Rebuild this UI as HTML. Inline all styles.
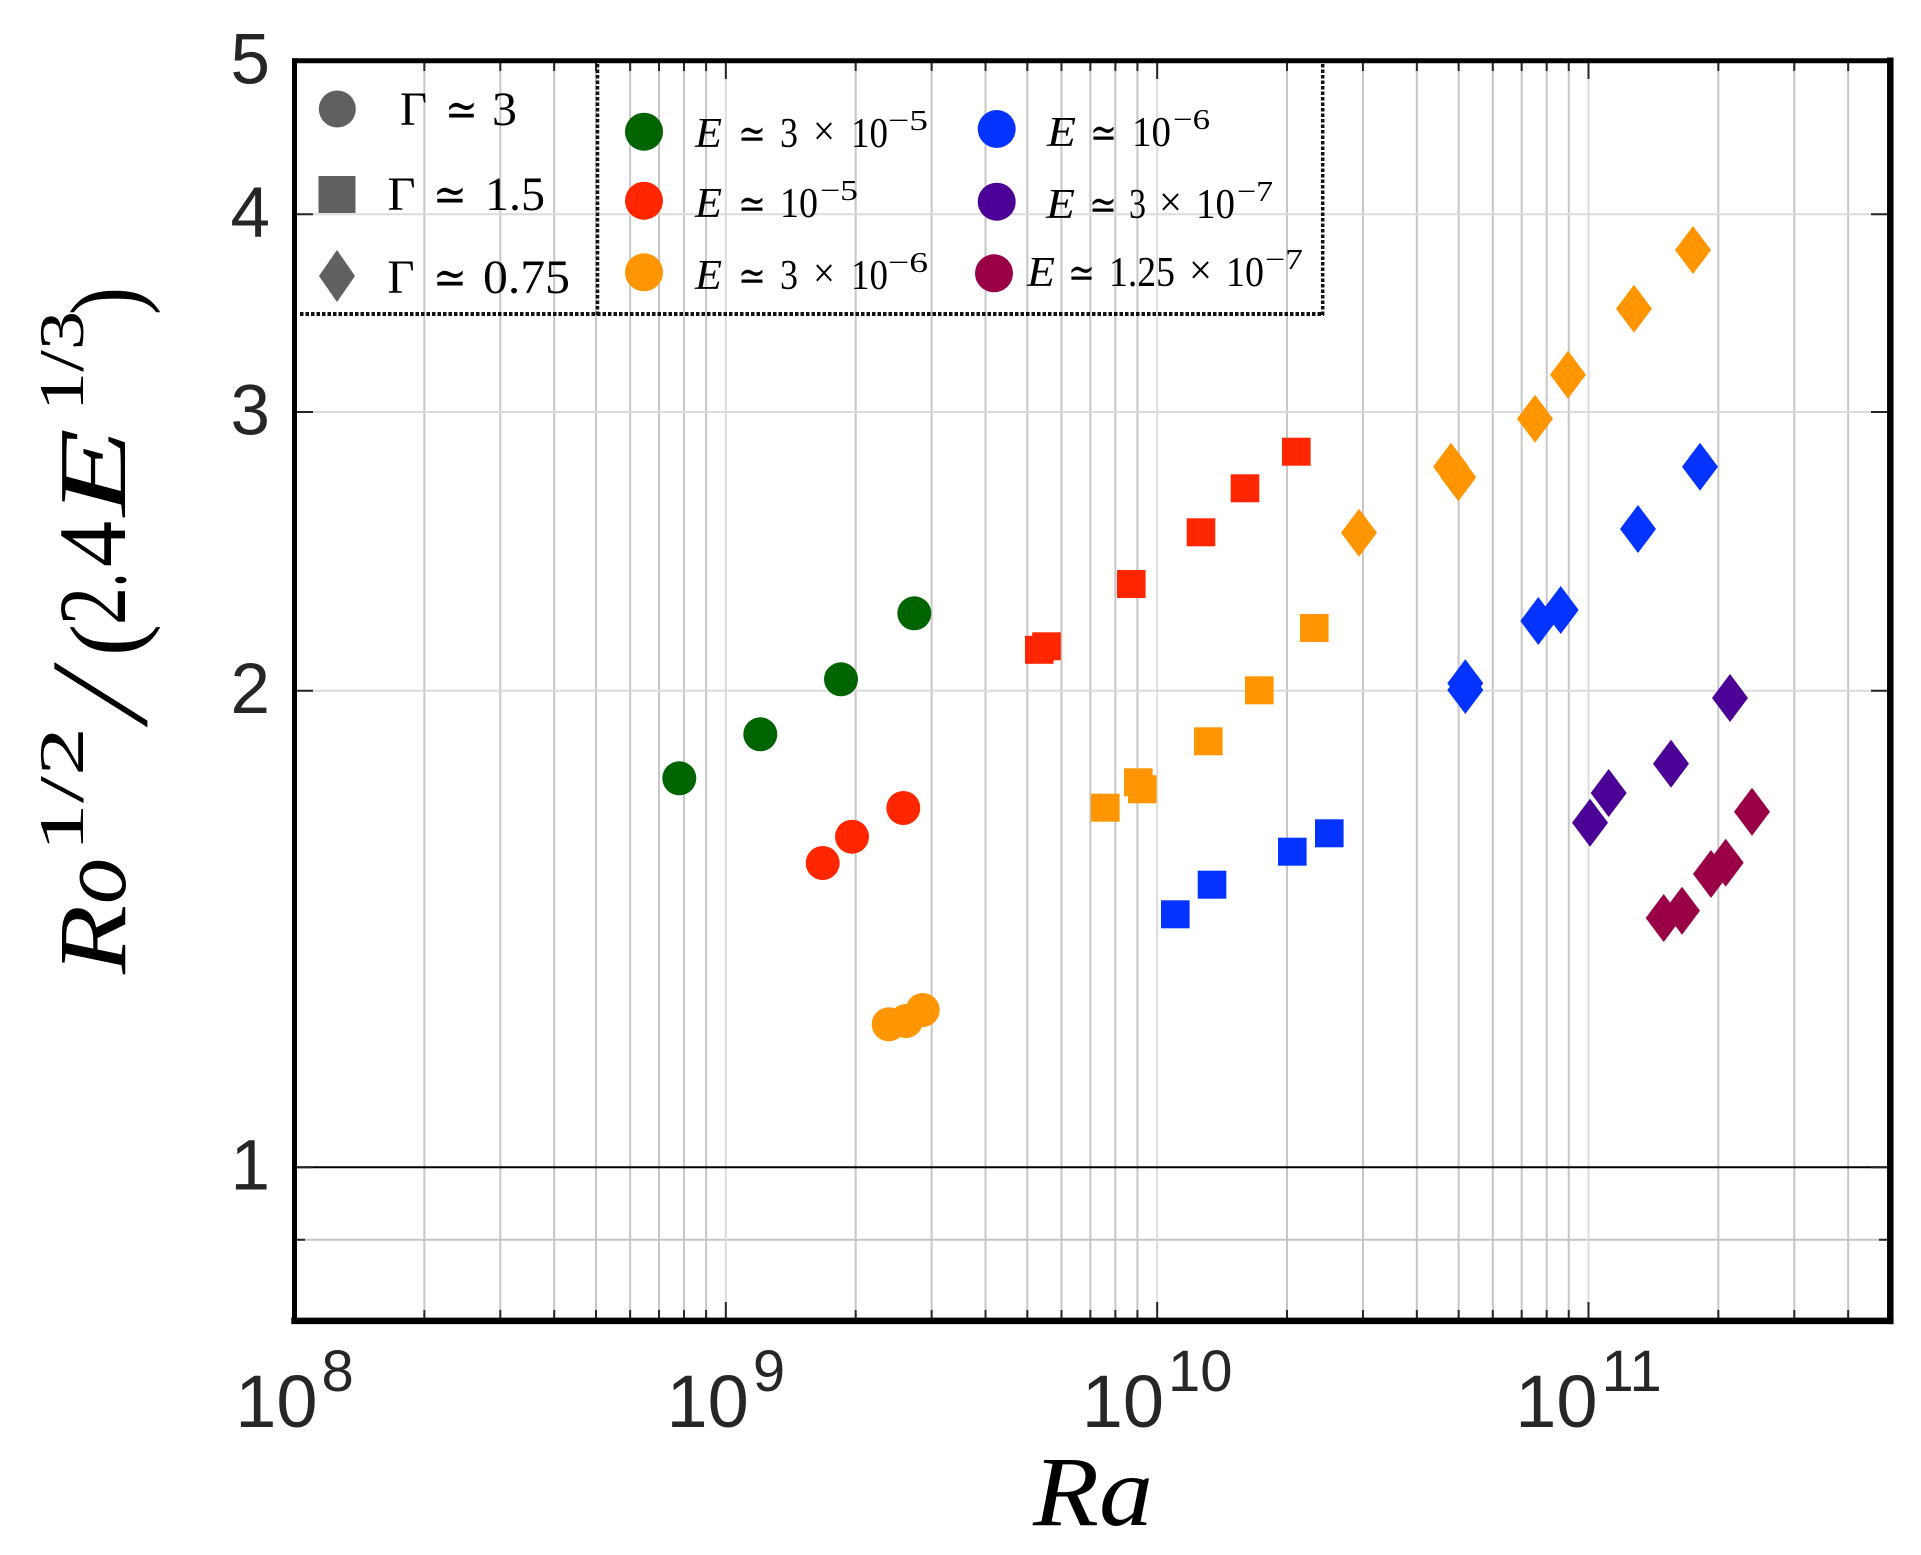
<!DOCTYPE html>
<html>
<head>
<meta charset="utf-8">
<style>
  html,body{margin:0;padding:0;background:#fff;}
  svg{display:block;}
  .tk{font-family:"Liberation Sans",sans-serif;fill:#262626;}
  .sf{font-family:"Liberation Serif","DejaVu Serif",serif;fill:#000;}
  .it{font-style:italic;}
</style>
</head>
<body>
<svg xmlns="http://www.w3.org/2000/svg" width="1921" height="1555" viewBox="0 0 1921 1555">
  <defs>
    <path id="dm" d="M0,-24L18,0L0,24L-18,0Z"/>
    <rect id="sq" x="-14.3" y="-14" width="28.6" height="28"/>
  </defs>
  <rect x="0" y="0" width="1921" height="1555" fill="#fff"/>

  <!-- minor vertical grid -->
  <path stroke="#c6c6c6" stroke-width="2" fill="none" d="
    M424.34 63V1318 M500.30 63V1318 M554.19 63V1318 M595.99 63V1318 M630.14 63V1318 M659.02 63V1318 M684.03 63V1318 M706.09 63V1318
    M855.67 63V1318 M931.63 63V1318 M985.52 63V1318 M1027.32 63V1318 M1061.47 63V1318 M1090.35 63V1318 M1115.36 63V1318 M1137.42 63V1318
    M1287.00 63V1318 M1362.96 63V1318 M1416.85 63V1318 M1458.65 63V1318 M1492.80 63V1318 M1521.68 63V1318 M1546.69 63V1318 M1568.75 63V1318
    M1718.33 63V1318 M1794.29 63V1318 M1848.18 63V1318
    M297 1239.7H1887"/>
  <!-- major grid -->
  <path stroke="#dcdcdc" stroke-width="2" fill="none" d="
    M725.83 63V1318 M1157.16 63V1318 M1588.49 63V1318
    M297 214.2H1887 M297 412H1887 M297 690.7H1887"/>
  <!-- y=1 reference line -->
  <path stroke="#000" stroke-width="2" d="M297 1167.2H1887"/>

  <!-- ticks -->
  <path stroke="#262626" stroke-width="2" fill="none" d="
    M424.34 63v8 M500.30 63v8 M554.19 63v8 M595.99 63v8 M630.14 63v8 M659.02 63v8 M684.03 63v8 M706.09 63v8
    M855.67 63v8 M931.63 63v8 M985.52 63v8 M1027.32 63v8 M1061.47 63v8 M1090.35 63v8 M1115.36 63v8 M1137.42 63v8
    M1287.00 63v8 M1362.96 63v8 M1416.85 63v8 M1458.65 63v8 M1492.80 63v8 M1521.68 63v8 M1546.69 63v8 M1568.75 63v8
    M1718.33 63v8 M1794.29 63v8 M1848.18 63v8
    M725.83 63v16 M1157.16 63v16 M1588.49 63v16
    M424.34 1318v-8 M500.30 1318v-8 M554.19 1318v-8 M595.99 1318v-8 M630.14 1318v-8 M659.02 1318v-8 M684.03 1318v-8 M706.09 1318v-8
    M855.67 1318v-8 M931.63 1318v-8 M985.52 1318v-8 M1027.32 1318v-8 M1061.47 1318v-8 M1090.35 1318v-8 M1115.36 1318v-8 M1137.42 1318v-8
    M1287.00 1318v-8 M1362.96 1318v-8 M1416.85 1318v-8 M1458.65 1318v-8 M1492.80 1318v-8 M1521.68 1318v-8 M1546.69 1318v-8 M1568.75 1318v-8
    M1718.33 1318v-8 M1794.29 1318v-8 M1848.18 1318v-8
    M725.83 1318v-16 M1157.16 1318v-16 M1588.49 1318v-16
    M297 214.2h16 M297 412h16 M297 690.7h16 M297 1167.2h16 M297 1239.7h8
    M1887 214.2h-16 M1887 412h-16 M1887 690.7h-16 M1887 1167.2h-16 M1887 1239.7h-8"/>

  <!-- legend dotted borders -->
  <g stroke="#111" fill="none" stroke-dasharray="3.5 2">
    <path stroke-width="3.5" d="M597.5 64V316"/>
    <path stroke-width="3.5" d="M1322.7 64V316"/>
    <path stroke-width="4" d="M300 314H1324"/>
  </g>

  <!-- axes frame -->
  <g stroke="#000" stroke-linecap="square">
    <path stroke-width="5" d="M294.5 60.8V1320.9"/>
    <path stroke-width="5" d="M294.5 60.8H1890.3"/>
    <path stroke-width="6.5" d="M1890.3 60.8V1320.9"/>
    <path stroke-width="6.5" d="M294.5 1320.9H1890.3"/>
  </g>

  <!-- y tick labels -->
  <g class="tk" font-size="71" text-anchor="end">
    <text x="270" y="83.3">5</text>
    <text x="270" y="236.7">4</text>
    <text x="270" y="434.5">3</text>
    <text x="270" y="713.2">2</text>
    <text x="270" y="1189.7">1</text>
  </g>
  <!-- x tick labels -->
  <g class="tk" font-size="74" text-anchor="middle">
    <text x="294.5" y="1427">10<tspan font-size="58" dx="4" dy="-36">8</tspan></text>
    <text x="725.83" y="1427">10<tspan font-size="58" dx="4" dy="-36">9</tspan></text>
    <text x="1157.16" y="1427">10<tspan font-size="58" dx="4" dy="-36">10</tspan></text>
    <text x="1588.49" y="1427">10<tspan font-size="58" dx="4" dy="-36">11</tspan></text>
  </g>

  <!-- x axis label -->
  <text class="sf it" x="1033" y="1525" font-size="100" textLength="120" lengthAdjust="spacingAndGlyphs">Ra</text>

  <!-- y axis label -->
  <g transform="translate(125,974) rotate(-90)" class="sf">
    <text class="it" x="0" y="0" font-size="96" textLength="69" lengthAdjust="spacingAndGlyphs">R</text>
    <text class="it" x="70" y="0" font-size="96" textLength="46" lengthAdjust="spacingAndGlyphs">o</text>
    <text x="122" y="-42" font-size="64" textLength="125" lengthAdjust="spacingAndGlyphs">1/2</text>
    <text transform="translate(247,21) skewX(-16)" x="0" y="0" font-size="139">/</text>
    <text x="318" y="14" font-size="100" textLength="32" lengthAdjust="spacingAndGlyphs">(</text>
    <text x="349" y="0" font-size="96" textLength="38" lengthAdjust="spacingAndGlyphs">2</text>
    <text x="387" y="0" font-size="96" textLength="14" lengthAdjust="spacingAndGlyphs">.</text>
    <text x="407" y="0" font-size="96" textLength="46" lengthAdjust="spacingAndGlyphs">4</text>
    <text class="it" x="458" y="0" font-size="96" textLength="88" lengthAdjust="spacingAndGlyphs">E</text>
    <text x="563" y="-42" font-size="64" textLength="100" lengthAdjust="spacingAndGlyphs">1/3</text>
    <text x="659" y="14" font-size="100" textLength="28" lengthAdjust="spacingAndGlyphs">)</text>
  </g>

  <!-- legend 1 (aspect ratio) -->
  <circle cx="337.3" cy="109" r="18.5" fill="#606060"/>
  <rect x="318.5" y="176" width="37" height="37" fill="#606060"/>
  <path d="M337 250L355 276L337 302L319 276Z" fill="#606060"/>
  <g class="sf" font-size="48">
    <text x="400" y="125" textLength="27" lengthAdjust="spacingAndGlyphs">Γ</text>
    <text x="445" y="126" textLength="33" lengthAdjust="spacingAndGlyphs">≃</text>
    <text x="492" y="125" textLength="25" lengthAdjust="spacingAndGlyphs">3</text>
    <text x="387.5" y="210" textLength="28" lengthAdjust="spacingAndGlyphs">Γ</text>
    <text x="433" y="211" textLength="34" lengthAdjust="spacingAndGlyphs">≃</text>
    <text x="485" y="210" textLength="60" lengthAdjust="spacingAndGlyphs">1.5</text>
    <text x="387.5" y="293" textLength="27" lengthAdjust="spacingAndGlyphs">Γ</text>
    <text x="433" y="294" textLength="34" lengthAdjust="spacingAndGlyphs">≃</text>
    <text x="483" y="293" textLength="87" lengthAdjust="spacingAndGlyphs">0.75</text>
  </g>

  <!-- legend 2 (Ekman) markers -->
  <circle cx="644" cy="131.7" r="19" fill="#006400"/>
  <circle cx="644" cy="200.7" r="19" fill="#ff2600"/>
  <circle cx="644" cy="272.3" r="19" fill="#ff9500"/>
  <circle cx="996.7" cy="129" r="19" fill="#0433ff"/>
  <circle cx="996.7" cy="201.7" r="19" fill="#4b0096"/>
  <circle cx="994" cy="273.3" r="19" fill="#990045"/>

  <g class="sf" font-size="42">
    <!-- row 1 left -->
    <text class="it" x="695" y="147" textLength="27" lengthAdjust="spacingAndGlyphs">E</text>
    <text x="738" y="148" textLength="28" lengthAdjust="spacingAndGlyphs">≃</text>
    <text x="780" y="147" textLength="18" lengthAdjust="spacingAndGlyphs">3</text>
    <text x="813" y="145" textLength="22" lengthAdjust="spacingAndGlyphs">×</text>
    <text x="851" y="147" textLength="37" lengthAdjust="spacingAndGlyphs">10</text>
    <text x="888" y="130" font-size="29" textLength="40" lengthAdjust="spacingAndGlyphs">−5</text>
    <!-- row 2 left -->
    <text class="it" x="695" y="217" textLength="27" lengthAdjust="spacingAndGlyphs">E</text>
    <text x="738" y="218" textLength="28" lengthAdjust="spacingAndGlyphs">≃</text>
    <text x="780" y="217" textLength="38" lengthAdjust="spacingAndGlyphs">10</text>
    <text x="820" y="200" font-size="29" textLength="38" lengthAdjust="spacingAndGlyphs">−5</text>
    <!-- row 3 left -->
    <text class="it" x="695" y="289" textLength="27" lengthAdjust="spacingAndGlyphs">E</text>
    <text x="738" y="290" textLength="28" lengthAdjust="spacingAndGlyphs">≃</text>
    <text x="780" y="289" textLength="18" lengthAdjust="spacingAndGlyphs">3</text>
    <text x="813" y="287" textLength="22" lengthAdjust="spacingAndGlyphs">×</text>
    <text x="851" y="289" textLength="37" lengthAdjust="spacingAndGlyphs">10</text>
    <text x="888" y="272" font-size="29" textLength="40" lengthAdjust="spacingAndGlyphs">−6</text>
    <!-- row 1 right -->
    <text class="it" x="1047" y="146" textLength="29" lengthAdjust="spacingAndGlyphs">E</text>
    <text x="1090" y="147" textLength="27" lengthAdjust="spacingAndGlyphs">≃</text>
    <text x="1132" y="146" textLength="39" lengthAdjust="spacingAndGlyphs">10</text>
    <text x="1173" y="129" font-size="29" textLength="37" lengthAdjust="spacingAndGlyphs">−6</text>
    <!-- row 2 right -->
    <text class="it" x="1046" y="218" textLength="29" lengthAdjust="spacingAndGlyphs">E</text>
    <text x="1089" y="219" textLength="28" lengthAdjust="spacingAndGlyphs">≃</text>
    <text x="1129" y="218" textLength="17" lengthAdjust="spacingAndGlyphs">3</text>
    <text x="1159" y="216" textLength="23" lengthAdjust="spacingAndGlyphs">×</text>
    <text x="1196" y="218" textLength="39" lengthAdjust="spacingAndGlyphs">10</text>
    <text x="1237" y="201" font-size="29" textLength="36" lengthAdjust="spacingAndGlyphs">−7</text>
    <!-- row 3 right -->
    <text class="it" x="1027" y="286" textLength="28" lengthAdjust="spacingAndGlyphs">E</text>
    <text x="1068" y="287" textLength="27" lengthAdjust="spacingAndGlyphs">≃</text>
    <text x="1109" y="286" textLength="66" lengthAdjust="spacingAndGlyphs">1.25</text>
    <text x="1189" y="284" textLength="23" lengthAdjust="spacingAndGlyphs">×</text>
    <text x="1226" y="286" textLength="38" lengthAdjust="spacingAndGlyphs">10</text>
    <text x="1265" y="269" font-size="29" textLength="38" lengthAdjust="spacingAndGlyphs">−7</text>
  </g>

  <!-- data: circles (Gamma ~ 3) -->
  <g fill="#006400">
    <circle cx="679.3" cy="778.3" r="17"/>
    <circle cx="760.3" cy="734.3" r="17"/>
    <circle cx="841" cy="679.3" r="17"/>
    <circle cx="914.3" cy="613.3" r="17"/>
  </g>
  <g fill="#ff2600">
    <circle cx="822.7" cy="863" r="17"/>
    <circle cx="852" cy="836.7" r="17"/>
    <circle cx="903.3" cy="808" r="17"/>
  </g>
  <g fill="#ff9500">
    <circle cx="888.7" cy="1024.3" r="17"/>
    <circle cx="906" cy="1021" r="17"/>
    <circle cx="922.7" cy="1010" r="17"/>
  </g>

  <!-- data: squares (Gamma ~ 1.5) -->
  <g fill="#ff2600">
    <use href="#sq" x="1039.3" y="649.8"/>
    <use href="#sq" x="1046.5" y="646.3"/>
    <use href="#sq" x="1131.3" y="584"/>
    <use href="#sq" x="1201" y="532.3"/>
    <use href="#sq" x="1245" y="488.3"/>
    <use href="#sq" x="1296.3" y="451.7"/>
  </g>
  <g fill="#ff9500">
    <use href="#sq" x="1314.3" y="628"/>
    <use href="#sq" x="1259.3" y="690.3"/>
    <use href="#sq" x="1208.3" y="741.3"/>
    <use href="#sq" x="1138.3" y="782.3"/>
    <use href="#sq" x="1142.3" y="789.3"/>
    <use href="#sq" x="1105.3" y="807.7"/>
  </g>
  <g fill="#0433ff">
    <use href="#sq" x="1329.3" y="833.3"/>
    <use href="#sq" x="1292.3" y="851.7"/>
    <use href="#sq" x="1212" y="884.7"/>
    <use href="#sq" x="1175.3" y="914.3"/>
  </g>

  <!-- data: diamonds (Gamma ~ 0.75) -->
  <g fill="#ff9500">
    <use href="#dm" x="1693" y="250"/>
    <use href="#dm" x="1634" y="308.7"/>
    <use href="#dm" x="1568" y="374.7"/>
    <use href="#dm" x="1535" y="418.7"/>
    <use href="#dm" x="1451" y="466.7"/>
    <use href="#dm" x="1458.3" y="477.3"/>
    <use href="#dm" x="1359" y="532.7"/>
  </g>
  <g fill="#0433ff">
    <use href="#dm" x="1700" y="466.7"/>
    <use href="#dm" x="1638" y="529"/>
    <use href="#dm" x="1538.3" y="621"/>
    <use href="#dm" x="1560.7" y="610"/>
    <use href="#dm" x="1465.3" y="683.3"/>
    <use href="#dm" x="1465.3" y="690"/>
  </g>
  <g fill="#4b0096">
    <use href="#dm" x="1730" y="698"/>
    <use href="#dm" x="1671" y="763.7"/>
    <use href="#dm" x="1608.7" y="793"/>
    <use href="#dm" x="1590" y="822.7"/>
  </g>
  <g fill="#990045">
    <use href="#dm" x="1752" y="811.7"/>
    <use href="#dm" x="1725.7" y="862.7"/>
    <use href="#dm" x="1711" y="874"/>
    <use href="#dm" x="1682" y="910.7"/>
    <use href="#dm" x="1663.7" y="918"/>
  </g>
</svg>
</body>
</html>
